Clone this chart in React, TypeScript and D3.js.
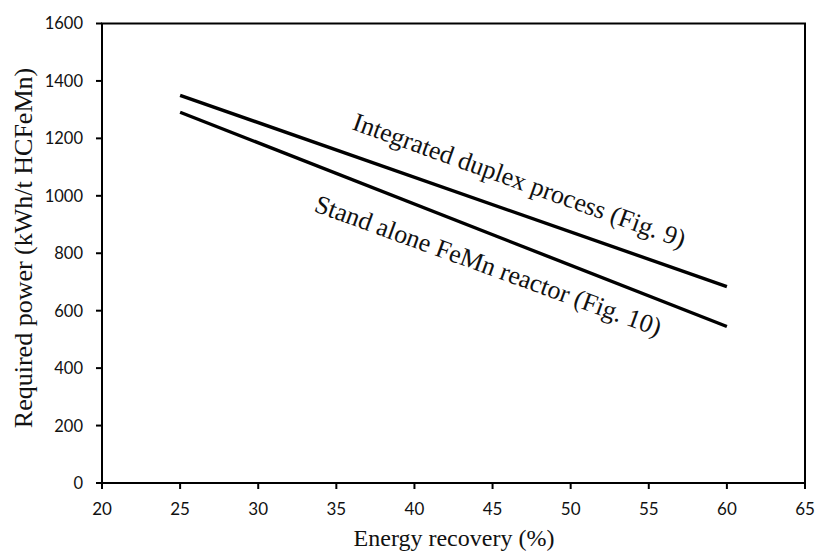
import React from "react";
import * as d3 from "d3";

const xTicks = [20, 25, 30, 35, 40, 45, 50, 55, 60, 65];
const yTicks = [0, 200, 400, 600, 800, 1000, 1200, 1400, 1600];
const recovery = [25, 60];
const integrated = [1350, 684];
const standAlone = [1291, 545];
const labelIntegrated = "Integrated duplex process (Fig. 9)";
const labelStandAlone = "Stand alone FeMn reactor (Fig. 10)";

const W = 816;
const H = 553;
const m = { left: 102, right: 11, top: 23.5, bottom: 70 };

export default function App() {
  const x = d3.scaleLinear().domain([20, 65]).range([m.left, W - m.right]);
  const y = d3.scaleLinear().domain([0, 1600]).range([H - m.bottom, m.top]);
  const line = d3
    .line<number>()
    .x((_, i) => x(recovery[i]))
    .y((d) => y(d));
  const tickFont = "Lato, 'Open Sans', sans-serif";
  const serif = "'Liberation Serif', 'Times New Roman', serif";
  return (
    <svg
      width={W}
      height={H}
      style={{ position: "absolute", left: 0, top: 0, background: "#fff" }}
    >
      <rect x={0} y={0} width={W} height={H} fill="#fff" />
      <rect
        x={x(20)}
        y={y(1600)}
        width={x(65) - x(20)}
        height={y(0) - y(1600)}
        fill="none"
        stroke="#000"
        strokeWidth={2}
      />
      {yTicks.map((t) => (
        <g key={"y" + t}>
          <line x1={x(20) - 6} x2={x(20)} y1={y(t)} y2={y(t)} stroke="#000" strokeWidth={2} />
          <text
            x={x(20) - 19}
            y={y(t)}
            dy="0.36em"
            textAnchor="end"
            fontFamily={tickFont}
            fontSize={16.5}
            fill="#111"
          >
            {t}
          </text>
        </g>
      ))}
      {xTicks.map((t) => (
        <g key={"x" + t}>
          <line x1={x(t)} x2={x(t)} y1={y(0)} y2={y(0) + 6} stroke="#000" strokeWidth={2} />
          <text
            x={x(t)}
            y={y(0) + 32}
            textAnchor="middle"
            fontFamily={tickFont}
            fontSize={17}
            fill="#111"
          >
            {t}
          </text>
        </g>
      ))}
      <path d={line(integrated) || ""} fill="none" stroke="#000" strokeWidth={3.4} />
      <path d={line(standAlone) || ""} fill="none" stroke="#000" strokeWidth={3.4} />
      <text
        transform={`translate(351,129) rotate(19.8)`}
        fontFamily={serif}
        fontSize={26}
        fill="#111"
      >
        {labelIntegrated}
      </text>
      <text
        transform={`translate(313,211) rotate(20)`}
        fontFamily={serif}
        fontSize={26}
        fill="#111"
      >
        {labelStandAlone}
      </text>
      <text
        x={454}
        y={546}
        textAnchor="middle"
        fontFamily={serif}
        fontSize={24}
        fill="#111"
      >
        Energy recovery (%)
      </text>
      <text
        transform={`translate(32,248) rotate(-90)`}
        textAnchor="middle"
        fontFamily={serif}
        fontSize={26}
        fill="#111"
      >
        Required power (kWh/t HCFeMn)
      </text>
    </svg>
  );
}
